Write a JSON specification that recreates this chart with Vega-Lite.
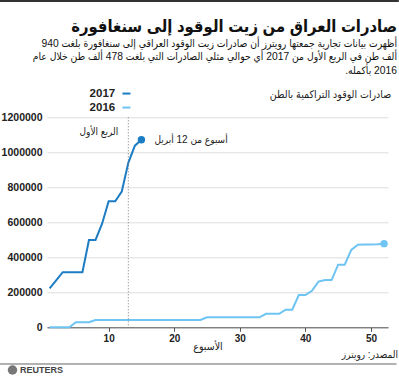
{
  "$schema": "https://vega.github.io/schema/vega-lite/v6.json",
  "width": 341,
  "height": 210,
  "autosize": "none",
  "padding": {"left": 47, "top": 117.3, "right": 11, "bottom": 50.7},
  "background": "white",
  "config": {
    "view": {"stroke": null},
    "font": "Liberation Sans, DejaVu Sans Condensed, DejaVu Sans, sans-serif",
    "axis": {"labelOverlap": false},
    "axisY": {"grid": true, "gridColor": "#dddddd", "gridOpacity": 1, "gridWidth": 1, "labelOverlap": false, "tickCount": 7},
    "axisX": {"grid": false}
  },
  "title": {
    "text": "صادرات العراق من زيت الوقود إلى سنغافورة",
    "subtitle": [
      "أظهرت بيانات تجارية جمعتها رويترز أن صادرات زيت الوقود العراقي إلى سنغافورة بلغت 940",
      "ألف طن في الربع الأول من 2017 أي حوالي مثلي الصادرات التي بلغت 478 ألف طن خلال عام",
      "‏2016 بأكمله.‏"
    ],
    "anchor": "end",
    "frame": "group",
    "dx": 9,
    "dy": 80,
    "offset": 4,
    "fontSize": 16.5,
    "fontWeight": "bold",
    "color": "#111111",
    "subtitleFontSize": 10.3,
    "subtitleFontWeight": "normal",
    "subtitleColor": "#111111",
    "subtitleLineHeight": 13.5,
    "subtitlePadding": 3
  },
  "data": {
    "values": [
      {"year": "2017", "week": 1, "value": 222000},
      {"year": "2017", "week": 2, "value": 268000},
      {"year": "2017", "week": 3, "value": 315000},
      {"year": "2017", "week": 4, "value": 315000},
      {"year": "2017", "week": 5, "value": 315000},
      {"year": "2017", "week": 6, "value": 315000},
      {"year": "2017", "week": 7, "value": 499000},
      {"year": "2017", "week": 8, "value": 499000},
      {"year": "2017", "week": 9, "value": 592000},
      {"year": "2017", "week": 10, "value": 720000},
      {"year": "2017", "week": 11, "value": 720000},
      {"year": "2017", "week": 12, "value": 776000},
      {"year": "2017", "week": 13, "value": 940000},
      {"year": "2017", "week": 14, "value": 1038000},
      {"year": "2017", "week": 15, "value": 1072000},
      {"year": "2016", "week": 1, "value": 0},
      {"year": "2016", "week": 2, "value": 0},
      {"year": "2016", "week": 3, "value": 0},
      {"year": "2016", "week": 4, "value": 0},
      {"year": "2016", "week": 5, "value": 29000},
      {"year": "2016", "week": 6, "value": 29000},
      {"year": "2016", "week": 7, "value": 29000},
      {"year": "2016", "week": 8, "value": 42000},
      {"year": "2016", "week": 9, "value": 42000},
      {"year": "2016", "week": 10, "value": 42000},
      {"year": "2016", "week": 11, "value": 42000},
      {"year": "2016", "week": 12, "value": 42000},
      {"year": "2016", "week": 13, "value": 42000},
      {"year": "2016", "week": 14, "value": 42000},
      {"year": "2016", "week": 15, "value": 42000},
      {"year": "2016", "week": 16, "value": 42000},
      {"year": "2016", "week": 17, "value": 42000},
      {"year": "2016", "week": 18, "value": 42000},
      {"year": "2016", "week": 19, "value": 42000},
      {"year": "2016", "week": 20, "value": 42000},
      {"year": "2016", "week": 21, "value": 42000},
      {"year": "2016", "week": 22, "value": 42000},
      {"year": "2016", "week": 23, "value": 42000},
      {"year": "2016", "week": 24, "value": 42000},
      {"year": "2016", "week": 25, "value": 57000},
      {"year": "2016", "week": 26, "value": 57000},
      {"year": "2016", "week": 27, "value": 57000},
      {"year": "2016", "week": 28, "value": 57000},
      {"year": "2016", "week": 29, "value": 57000},
      {"year": "2016", "week": 30, "value": 57000},
      {"year": "2016", "week": 31, "value": 57000},
      {"year": "2016", "week": 32, "value": 57000},
      {"year": "2016", "week": 33, "value": 57000},
      {"year": "2016", "week": 34, "value": 77000},
      {"year": "2016", "week": 35, "value": 77000},
      {"year": "2016", "week": 36, "value": 77000},
      {"year": "2016", "week": 37, "value": 101000},
      {"year": "2016", "week": 38, "value": 101000},
      {"year": "2016", "week": 39, "value": 184000},
      {"year": "2016", "week": 40, "value": 184000},
      {"year": "2016", "week": 41, "value": 209000},
      {"year": "2016", "week": 42, "value": 261000},
      {"year": "2016", "week": 43, "value": 270000},
      {"year": "2016", "week": 44, "value": 270000},
      {"year": "2016", "week": 45, "value": 358000},
      {"year": "2016", "week": 46, "value": 358000},
      {"year": "2016", "week": 47, "value": 442000},
      {"year": "2016", "week": 48, "value": 472000},
      {"year": "2016", "week": 49, "value": 473000},
      {"year": "2016", "week": 50, "value": 473000},
      {"year": "2016", "week": 51, "value": 474000},
      {"year": "2016", "week": 52, "value": 478000}
    ]
  },
  "layer": [
    {
      "mark": {"type": "line", "strokeWidth": 2},
      "encoding": {
        "x": {
          "field": "week",
          "type": "quantitative",
          "scale": {"domain": [0.6, 52.6], "nice": false, "zero": false},
          "axis": {
            "values": [10, 20, 30, 40, 50],
            "grid": false,
            "labelOverlap": false,
            "title": "الأسبوع",
            "titleX": 160.5,
            "titleY": 19.5,
            "titleBaseline": "middle",
            "titleAlign": "center",
            "titleFontSize": 10.5,
            "titleFontWeight": "normal",
            "titleColor": "#222222",
            "labelFontSize": 10,
            "labelFontWeight": "bold",
            "labelColor": "#222222",
            "labelPadding": 2,
            "tickSize": 4,
            "tickColor": "#555555",
            "domainColor": "#555555"
          }
        },
        "y": {
          "field": "value",
          "type": "quantitative",
          "scale": {"domain": [0, 1200000], "nice": false},
          "axis": {
            "values": [0, 200000, 400000, 600000, 800000, 1000000, 1200000],
            "format": "d",
            "domain": false,
            "ticks": false,
            "labelOverlap": false,
            "grid": true,
            "gridColor": "#dddddd",
            "gridOpacity": 1,
            "labelFontSize": 10.5,
            "labelFontWeight": "bold",
            "labelColor": "#222222",
            "labelPadding": 5,
            "title": "صادرات الوقود التراكمية بالطن",
            "titleAngle": 0,
            "titleX": 343.7,
            "titleY": -22.6,
            "titleAlign": "right",
            "titleBaseline": "middle",
            "titleFontSize": 10.5,
            "titleFontWeight": "normal",
            "titleColor": "#222222"
          }
        },
        "color": {
          "field": "year",
          "type": "nominal",
          "scale": {"domain": ["2017", "2016"], "range": ["#1c7cc4", "#6ec4f2"]},
          "legend": {
            "orient": "none",
            "legendX": 73.7,
            "legendY": -29.5,
            "title": null,
            "symbolType": "stroke",
            "symbolSize": 64,
            "symbolStrokeWidth": 2,
            "labelAlign": "right",
            "labelOffset": -17,
            "labelFontSize": 11.5,
            "labelFontWeight": "bold",
            "labelColor": "#222222",
            "rowPadding": 1,
            "padding": 0
          }
        }
      }
    },
    {
      "transform": [{"filter": "(datum.year == '2017' && datum.week == 15) || (datum.year == '2016' && datum.week == 52)"}],
      "mark": {"type": "point", "filled": true, "opacity": 1, "size": 55},
      "encoding": {
        "x": {"field": "week", "type": "quantitative"},
        "y": {"field": "value", "type": "quantitative"},
        "color": {"field": "year", "type": "nominal"}
      }
    },
    {
      "data": {"values": [{"k": 1}]},
      "mark": {"type": "rule", "strokeDash": [1, 2], "color": "#777777", "strokeWidth": 1},
      "encoding": {"x": {"datum": 13, "type": "quantitative"}}
    },
    {
      "data": {"values": [{"k": 1}]},
      "mark": {"type": "text", "align": "right", "baseline": "middle", "dx": -10, "fontSize": 10, "color": "#222222"},
      "encoding": {"x": {"datum": 13, "type": "quantitative"}, "y": {"datum": 1117700, "type": "quantitative"}, "text": {"value": "الربع الأول"}}
    },
    {
      "data": {"values": [{"k": 1}]},
      "mark": {"type": "text", "align": "left", "baseline": "middle", "dx": 13, "fontSize": 10, "color": "#222222"},
      "encoding": {"x": {"datum": 15, "type": "quantitative"}, "y": {"datum": 1072000, "type": "quantitative"}, "text": {"value": "أسبوع من 12 أبريل"}}
    },
    {
      "data": {"values": [{"k": 1}]},
      "mark": {"type": "text", "align": "right", "baseline": "middle", "fontSize": 10, "color": "#222222"},
      "encoding": {"x": {"datum": 54.12, "type": "quantitative"}, "y": {"datum": -158300, "type": "quantitative"}, "text": {"value": "المصدر: رويترز"}}
    },
    {
      "data": {"values": [{"k": 1}]},
      "mark": {"type": "rule", "color": "#666666", "strokeWidth": 1},
      "encoding": {"x": {"datum": -6.57, "type": "quantitative"}, "x2": {"datum": 53.9}, "y": {"datum": -209700, "type": "quantitative"}}
    },
    {
      "data": {"values": [{"k": 1}]},
      "mark": {"type": "rule", "color": "#333333", "strokeWidth": 2},
      "encoding": {"x": {"datum": -6.57, "type": "quantitative"}, "x2": {"datum": 54.25}, "y": {"datum": 1864500, "type": "quantitative"}}
    },
    {
      "data": {"values": [{"k": 1}]},
      "mark": {"type": "point", "shape": "circle", "filled": true, "opacity": 1, "size": 90, "color": "#777777"},
      "encoding": {"x": {"datum": -4.66, "type": "quantitative"}, "y": {"datum": -244000, "type": "quantitative"}}
    },
    {
      "data": {"values": [{"k": 1}]},
      "mark": {"type": "text", "align": "left", "baseline": "middle", "fontSize": 9, "fontWeight": "bold", "color": "#444444"},
      "encoding": {"x": {"datum": -3.52, "type": "quantitative"}, "y": {"datum": -244000, "type": "quantitative"}, "text": {"value": "REUTERS"}}
    }
  ]
}
